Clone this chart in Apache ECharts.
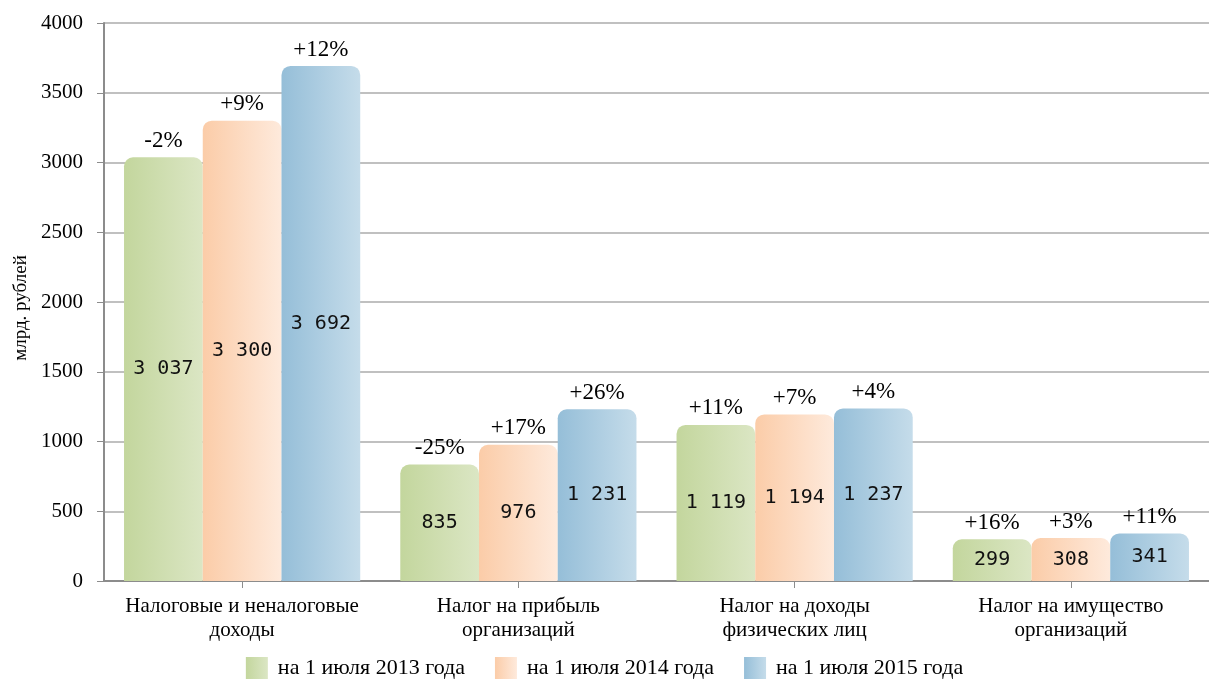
<!DOCTYPE html>
<html>
<head>
<meta charset="utf-8">
<script src="https://cdn.jsdelivr.net/npm/echarts@6/dist/echarts.min.js"></script>
<style>
  html, body { margin: 0; padding: 0; background: #fff; }
  #chart { width: 1209px; height: 685px; }
</style>
</head>
<body>
<div id="chart"></div>
<script>
const categories = [
  'Налоговые и неналоговые\nдоходы',
  'Налог на прибыль\nорганизаций',
  'Налог на доходы\nфизических лиц',
  'Налог на имущество\nорганизаций'
];
const seriesNames = ['на 1 июля 2013 года', 'на 1 июля 2014 года', 'на 1 июля 2015 года'];
const values2013 = [3037, 835, 1119, 299];
const values2014 = [3300, 976, 1194, 308];
const values2015 = [3692, 1231, 1237, 341];
const growth2013 = ['-2%', '-25%', '+11%', '+16%'];
const growth2014 = ['+9%', '+17%', '+7%', '+3%'];
const growth2015 = ['+12%', '+26%', '+4%', '+11%'];
const yTicks = [0, 500, 1000, 1500, 2000, 2500, 3000, 3500, 4000];

const font = 'Liberation Serif';
const valueFont = 'DejaVu Sans Mono';
const colorStops = [
  ['#c3d69d', '#dbe6c4'],
  ['#fbcca8', '#feeadc'],
  ['#95bed8', '#c5dcea']
];

function grad(c) {
  return new echarts.graphic.LinearGradient(0, 0, 1, 0, [
    { offset: 0, color: c[0] },
    { offset: 1, color: c[1] }
  ]);
}

function fmt(v) {
  return String(v).replace(/\B(?=(\d{3})+(?!\d))/g, ' ');
}

const allValues = [values2013, values2014, values2015];
const allGrowth = [growth2013, growth2014, growth2015];

const series = [];
allValues.forEach((vals, i) => {
  const stack = 'y' + i;
  series.push({
    name: seriesNames[i],
    type: 'bar',
    stack: stack,
    barGap: '0%',
    barCategoryGap: '14.5%',
    data: vals,
    itemStyle: { color: grad(colorStops[i]), borderRadius: [9, 9, 0, 0] },
    label: {
      show: true,
      position: 'inside',
      fontFamily: valueFont,
      fontSize: 20,
      color: '#111',
      formatter: p => fmt(p.value)
    }
  });
  // zero-height bar on top of the stack carries the growth label
  series.push({
    type: 'bar',
    stack: stack,
    data: vals.map(() => 0),
    itemStyle: { color: 'rgba(0,0,0,0)' },
    label: {
      show: true,
      position: 'top',
      distance: 5,
      fontFamily: font,
      fontSize: 23,
      color: '#000',
      formatter: p => allGrowth[i][p.dataIndex]
    },
    silent: true
  });
});

const chart = echarts.init(document.getElementById('chart'));
chart.setOption({
  animation: false,
  textStyle: { fontFamily: font },
  grid: { left: 104, right: -8, top: 23, bottom: 104, containLabel: false },
  legend: {
    data: seriesNames,
    bottom: 1,
    left: 'center',
    itemWidth: 22,
    itemHeight: 22,
    itemGap: 30,
    icon: 'rect',
    textStyle: { fontFamily: font, fontSize: 22, color: '#000', padding: [0, 0, 0, 5] }
  },
  xAxis: {
    type: 'category',
    data: categories,
    axisLine: { lineStyle: { color: '#8c8c8c', width: 2 } },
    axisTick: { show: true, alignWithLabel: true, length: 7, lineStyle: { color: '#8c8c8c' } },
    axisLabel: {
      fontFamily: font, fontSize: 21, color: '#000',
      lineHeight: 24, margin: 13, interval: 0
    }
  },
  yAxis: {
    type: 'value',
    min: yTicks[0],
    max: yTicks[yTicks.length - 1],
    interval: 500,
    name: 'млрд. рублей',
    nameLocation: 'middle',
    nameRotate: 90,
    nameGap: 72,
    nameTextStyle: { fontFamily: font, fontSize: 19, color: '#000', padding: [0, 12, 0, 0] },
    axisLine: { show: true, lineStyle: { color: '#8c8c8c', width: 2 } },
    axisTick: { show: true, length: 7, lineStyle: { color: '#8c8c8c' } },
    axisLabel: { fontFamily: font, fontSize: 21, color: '#000', margin: 21, formatter: v => String(v) },
    splitLine: { lineStyle: { color: '#c0c0c0', width: 2 } }
  },
  series: series
});
</script>
</body>
</html>
